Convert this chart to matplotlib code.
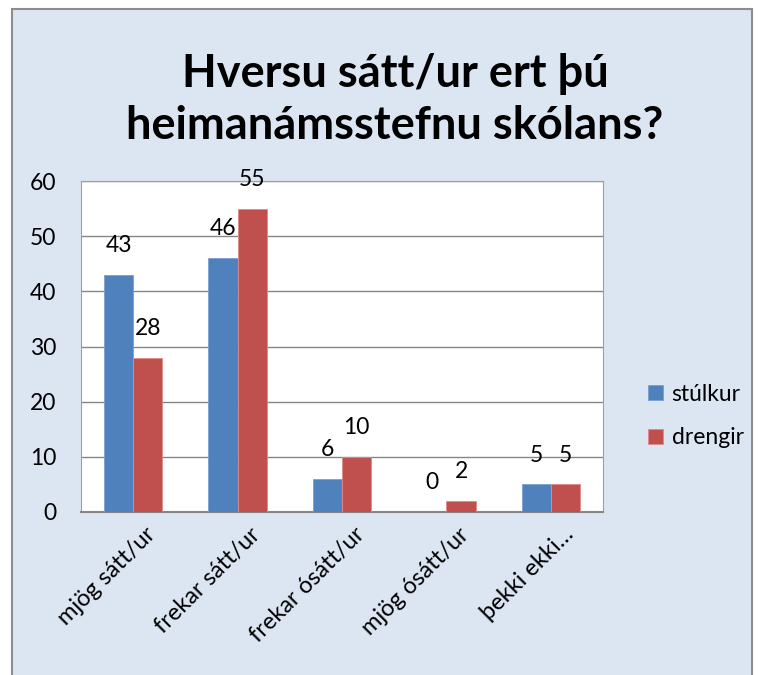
import numpy as np
import matplotlib.pyplot as plt
import matplotlib.transforms as mtransforms
from matplotlib.patches import Rectangle

categories = ['mjög sátt/ur', 'frekar sátt/ur', 'frekar ósátt/ur', 'mjög ósátt/ur', 'þekki ekki…']
stulkur = [43, 46, 6, 0, 5]
drengir = [28, 55, 10, 2, 5]
series_names = ['stúlkur', 'drengir']
yticks = [0, 10, 20, 30, 40, 50, 60]

blue = '#4f81bd'
red = '#c0504d'
bg = '#dce6f2'

plt.rcParams['font.family'] = ['Lato', 'DejaVu Sans']

fig = plt.figure(figsize=(7.58, 6.75), dpi=100)
fig.patch.set_facecolor('white')
# outer chart frame
fig.patches.append(Rectangle((12 / 758, -0.01), (752 - 12) / 758, 1 - 9 / 675 + 0.01,
                             transform=fig.transFigure, facecolor=bg,
                             edgecolor='#8c8c8c', linewidth=1.5, zorder=-10))

ax = fig.add_axes([81 / 758, 1 - 512 / 675, (603 - 81) / 758, (512 - 181) / 675])
ax.set_facecolor('white')

x = np.arange(len(categories))
w = 0.28
b1 = ax.bar(x - w / 2, stulkur, w, color=blue, edgecolor='#7a9fd0', linewidth=0.6,
            label=series_names[0], zorder=3)
b2 = ax.bar(x + w / 2, drengir, w, color=red, edgecolor='#e08a88', linewidth=0.6,
            label=series_names[1], zorder=3)

for bars, vals in [(b1, stulkur), (b2, drengir)]:
    for r, v in zip(bars, vals):
        ax.text(r.get_x() + r.get_width() / 2, v + 5.3, str(v), ha='center', va='center',
                fontsize=16.5)

ax.set_xlim(-0.5, len(categories) - 0.5)
ax.set_ylim(0, 60)
ax.set_yticks(yticks)
ax.tick_params(axis='y', labelsize=16.5, length=0, pad=18)
ax.set_xticks(x)
ax.set_xticklabels(categories, rotation=45, ha='right', rotation_mode='anchor', fontsize=17)
ax.tick_params(axis='x', length=0, pad=10)
# nudge the slanted labels a bit to the right, like the original
offset = mtransforms.ScaledTranslation(0.12, 0.02, fig.dpi_scale_trans)
for lbl in ax.get_xticklabels():
    lbl.set_transform(lbl.get_transform() + offset)
ax.grid(axis='y', color='#868686', linewidth=1, zorder=0)
for s in ['top', 'right', 'left']:
    ax.spines[s].set_color('#a0a0a0')
    ax.spines[s].set_linewidth(0.8)
ax.spines['bottom'].set_color('#868686')
ax.spines['bottom'].set_linewidth(1.5)

fig.text(395 / 758, 1 - 100 / 675, 'Hversu sátt/ur ert þú\nheimanámsstefnu skólans?',
         ha='center', va='center', fontsize=32.5, fontweight='bold', linespacing=1.3)

leg = fig.legend(handles=[b1, b2], labels=series_names, loc='center left',
                 bbox_to_anchor=(627 / 758, 1 - 416 / 675), frameon=False,
                 fontsize=16.5, handlelength=0.65, handleheight=0.65, labelspacing=1.0,
                 handletextpad=0.4)

fig.savefig('out.png', dpi=100, facecolor=fig.get_facecolor())
